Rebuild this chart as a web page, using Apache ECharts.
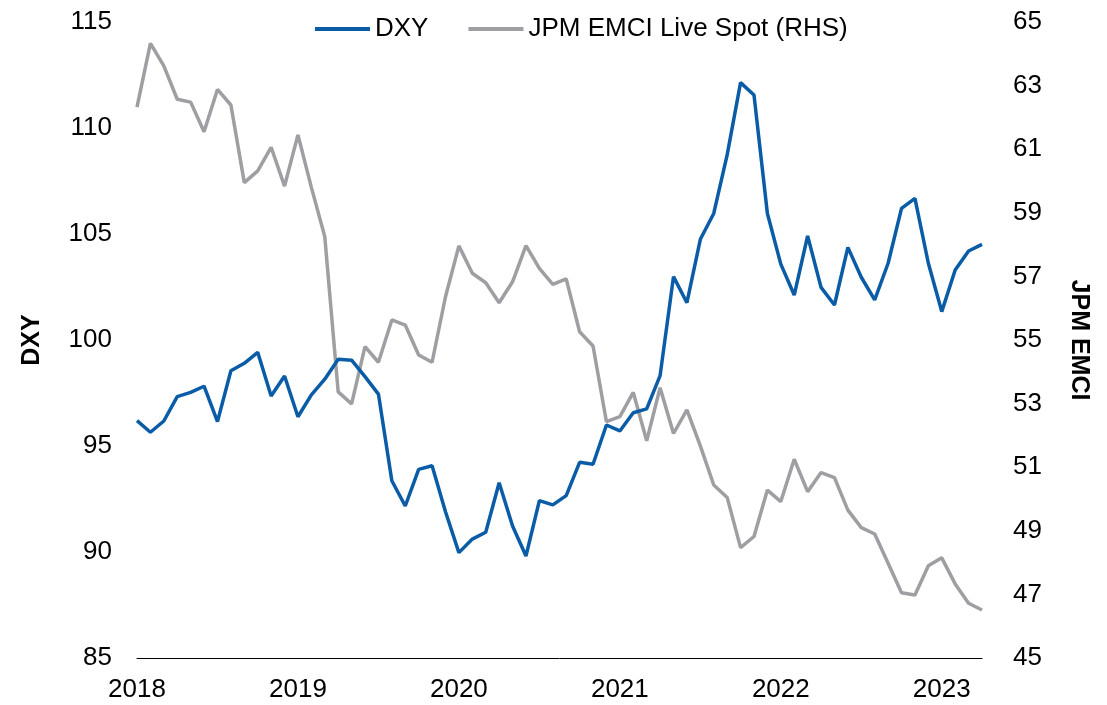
<!DOCTYPE html>
<html><head><meta charset="utf-8">
<script src="https://cdn.jsdelivr.net/npm/echarts@6/dist/echarts.min.js"></script>
<style>html,body{margin:0;padding:0;background:#fff}#c{width:1107px;height:705px}</style>
</head><body><div id="c"></div>
<script>
const months = [];
for (let y = 2018; y <= 2023; y++) for (let m = 1; m <= 12; m++) { if (y === 2023 && m > 4) break; months.push(y + '-' + String(m).padStart(2, '0')); }
const dxy = [96.2,95.65,96.18,97.33,97.53,97.82,96.15,98.55,98.9,99.42,97.36,98.3,
  96.38,97.41,98.15,99.09,99.05,98.27,97.45,93.36,92.17,93.9,94.07,91.9,
  89.97,90.61,90.93,93.27,91.23,89.81,92.42,92.22,92.66,94.23,94.14,95.99,
  95.71,96.57,96.75,98.32,102.99,101.76,104.75,105.97,108.73,112.14,111.56,105.97,
  103.58,102.12,104.91,102.48,101.65,104.37,102.96,101.89,103.62,106.21,106.68,103.62,
  101.34,103.3,104.2,104.51];
const emci = [62.32,64.33,63.62,62.57,62.48,61.55,62.88,62.39,59.95,60.32,61.06,59.84,
  61.45,59.8,58.25,53.37,52.99,54.79,54.3,55.63,55.47,54.53,54.3,56.36,
  57.96,57.1,56.8,56.17,56.83,57.97,57.25,56.75,56.92,55.26,54.81,52.43,
  52.59,53.35,51.83,53.5,52.06,52.8,51.67,50.44,50.05,48.47,48.82,50.28,
  49.92,51.25,50.23,50.83,50.67,49.65,49.1,48.9,47.98,47.05,46.98,47.9,
  48.15,47.33,46.72,46.51];
const leftTicks = [85, 115, 5];
const rightTicks = [45, 65, 2];
const BLUE = '#0A5CA6', GRAY = '#9E9EA3';
const FONT = '"Liberation Sans", Arial, sans-serif';
const chart = echarts.init(document.getElementById('c'));
chart.setOption({
  animation: false,
  textStyle: { fontFamily: FONT },
  grid: { left: 137, right: 125, top: 22, bottom: 47, containLabel: false, outerBoundsMode: 'none' },
  legend: {
    top: 11, left: 310, itemGap: 40, itemWidth: 55, itemHeight: 4, icon: 'rect',
    textStyle: { fontSize: 26, color: '#000', fontFamily: FONT },
    data: ['DXY', 'JPM EMCI Live Spot (RHS)']
  },
  xAxis: {
    type: 'category', data: months, boundaryGap: false,
    axisLine: { lineStyle: { color: '#000', width: 1 } },
    axisTick: { show: false },
    axisLabel: {
      interval: (i) => i % 12 === 0, formatter: (v) => v.slice(0, 4),
      fontSize: 26, color: '#000', margin: 19
    }
  },
  yAxis: [
    { type: 'value', min: leftTicks[0], max: leftTicks[1], interval: leftTicks[2],
      name: 'DXY', nameLocation: 'middle', nameGap: 92, nameRotate: 90,
      nameTextStyle: { fontSize: 25, fontWeight: 'bold', color: '#000' },
      axisLine: { show: false }, axisTick: { show: false }, splitLine: { show: false },
      axisLabel: { fontSize: 26, color: '#000', margin: 25 } },
    { type: 'value', min: rightTicks[0], max: rightTicks[1], interval: rightTicks[2], position: 'right',
      name: 'JPM EMCI', nameLocation: 'middle', nameGap: 84, nameRotate: -90,
      nameTextStyle: { fontSize: 25, fontWeight: 'bold', color: '#000' },
      axisLine: { show: false }, axisTick: { show: false }, splitLine: { show: false },
      axisLabel: { fontSize: 26, color: '#000', margin: 31 } }
  ],
  series: [
    { name: 'DXY', type: 'line', data: dxy, yAxisIndex: 0, symbol: 'none',
      lineStyle: { color: BLUE, width: 3.5 }, itemStyle: { color: BLUE }, z: 3 },
    { name: 'JPM EMCI Live Spot (RHS)', type: 'line', data: emci, yAxisIndex: 1, symbol: 'none',
      lineStyle: { color: GRAY, width: 3.5 }, itemStyle: { color: GRAY }, z: 2 }
  ]
});
</script></body></html>
